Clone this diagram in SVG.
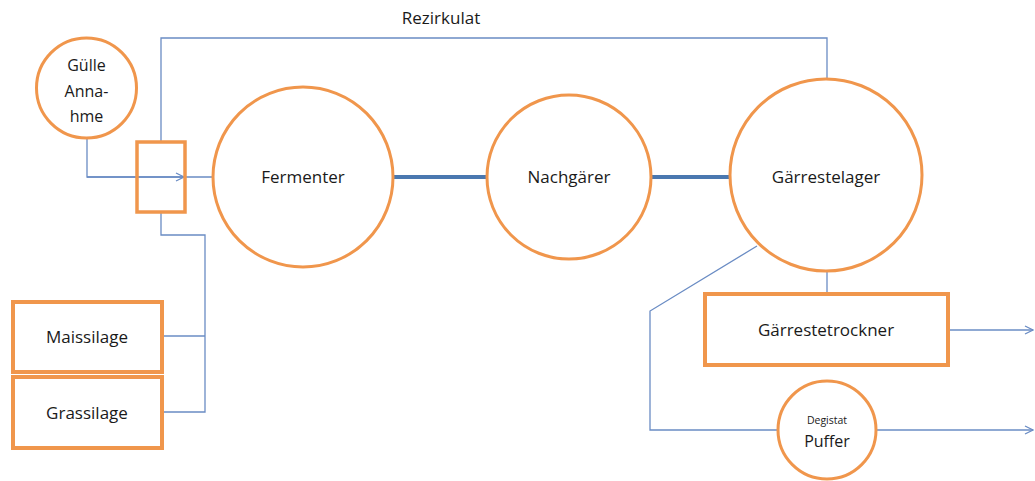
<svg xmlns="http://www.w3.org/2000/svg" width="1035" height="481" viewBox="0 0 1035 481">
  <style>
    .node { fill: #ffffff; stroke: #f0964c; stroke-width: 3; }
    .box { fill: #ffffff; stroke: #f0964c; stroke-width: 4; }
    .pipe { fill: none; stroke: #6a8cc4; stroke-width: 1.3; }
    .main { fill: none; stroke: #4a78b0; stroke-width: 4; }
    .lbl { font-family: "Open Sans", "Liberation Sans", sans-serif; font-size: 17px; fill: #1a1a1a; text-anchor: middle; }
  </style>
  <defs>
    <marker id="open" viewBox="0 0 10 10" refX="9" refY="5" markerWidth="10" markerHeight="10" markerUnits="userSpaceOnUse" orient="auto">
      <path d="M1,1 L9,5 L1,9" fill="none" stroke="#6a8cc4" stroke-width="1.3"/>
    </marker>
  </defs>

  <!-- connectors -->
  <g id="connectors">
    <path class="pipe" d="M161,141 V38 H827 V78"/>
    <path class="pipe" d="M87,138 V177 H215"/>
    <path class="pipe" d="M87,177 H184" marker-end="url(#open)"/>
    <path class="pipe" d="M161,213 V235 H205 V412 H163"/>
    <path class="pipe" d="M163,336 H205"/>
    <path class="main" d="M393,177 H487"/>
    <path class="main" d="M651,177 H731"/>
    <path class="pipe" d="M827,270 V294"/>
    <path class="pipe" d="M948,330 H1033" marker-end="url(#open)"/>
    <path class="pipe" d="M757,246 L650,311 V430 H778"/>
    <path class="pipe" d="M877,430 H1033" marker-end="url(#open)"/>
  </g>

  <text class="lbl" x="441" y="24">Rezirkulat</text>

  <g id="guelle">
    <circle class="node" cx="86.5" cy="88" r="50"/>
    <text class="lbl" x="86.5" y="71" style="font-size:16px">Gülle</text>
    <text class="lbl" x="86.5" y="97" style="font-size:16px">Anna-</text>
    <text class="lbl" x="86.5" y="122" style="font-size:16px">hme</text>
  </g>

  <g id="mixer">
    <rect x="137" y="142" width="48" height="70" fill="none" stroke="#f0964c" stroke-width="3.5"/>
  </g>

  <g id="fermenter">
    <circle class="node" cx="303" cy="177" r="90"/>
    <text class="lbl" x="303" y="183">Fermenter</text>
  </g>

  <g id="nachgaerer">
    <circle class="node" cx="569" cy="177" r="82"/>
    <text class="lbl" x="569" y="183">Nachgärer</text>
  </g>

  <g id="gaerrestelager">
    <circle class="node" cx="826" cy="175" r="96"/>
    <text class="lbl" x="826" y="183">Gärrestelager</text>
  </g>

  <g id="maissilage">
    <rect class="box" x="13" y="302" width="149" height="70"/>
    <text class="lbl" x="87" y="343">Maissilage</text>
  </g>

  <g id="grassilage">
    <rect class="box" x="13" y="377" width="149" height="71"/>
    <text class="lbl" x="87" y="419">Grassilage</text>
  </g>

  <g id="trockner">
    <rect class="box" x="705" y="294" width="243" height="71"/>
    <text class="lbl" x="826" y="336">Gärrestetrockner</text>
  </g>

  <g id="puffer">
    <circle class="node" cx="827" cy="430" r="49"/>
    <text class="lbl" x="827" y="424" style="font-size:10.5px">Degistat</text>
    <text class="lbl" x="827" y="447" style="font-size:16px">Puffer</text>
  </g>
</svg>
